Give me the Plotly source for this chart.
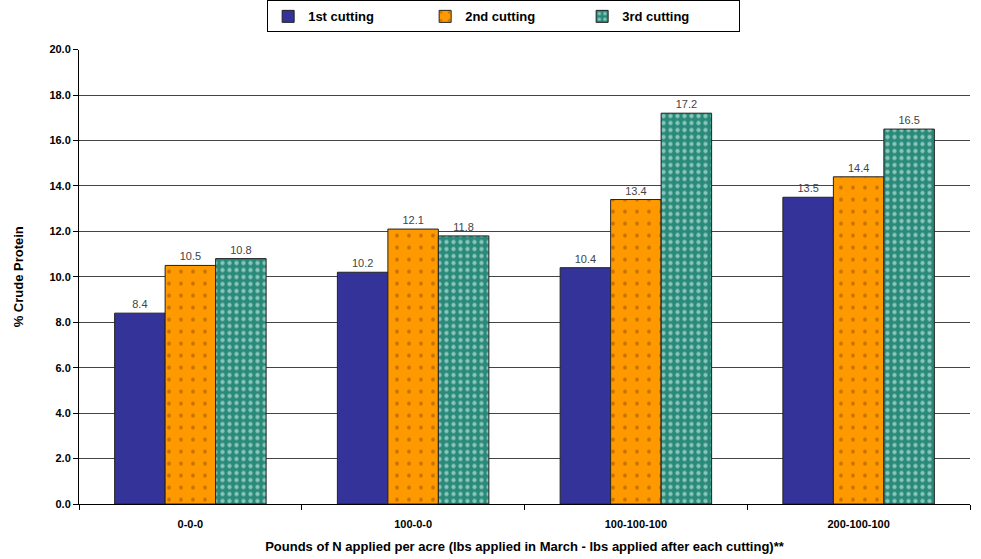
import plotly.graph_objects as go

categories = ["0-0-0", "100-0-0", "100-100-100", "200-100-100"]
first = [8.4, 10.2, 10.4, 13.5]
second = [10.5, 12.1, 13.4, 14.4]
third = [10.8, 11.8, 17.2, 16.5]
series_names = ["1st cutting", "2nd cutting", "3rd cutting"]
y_ticks = [0, 2, 4, 6, 8, 10, 12, 14, 16, 18, 20]

label_font = dict(size=11, color="#444444", family="Arial")

fig = go.Figure()
fig.add_trace(go.Bar(
    x=categories, y=first, name=series_names[0],
    marker=dict(color="#333399", line=dict(color="#222222", width=1)),
    text=[f"{v:.1f}" for v in first], textposition="outside",
    textfont=label_font, cliponaxis=False))
fig.add_trace(go.Bar(
    x=categories, y=second, name=series_names[1],
    marker=dict(color="#FF9900", line=dict(color="#222222", width=1),
                pattern=dict(shape=".", fgcolor="#8a4a00", size=12, solidity=0.08)),
    text=[f"{v:.1f}" for v in second], textposition="outside",
    textfont=label_font, cliponaxis=False))
fig.add_trace(go.Bar(
    x=categories, y=third, name=series_names[2],
    marker=dict(color="#2a8a7a", line=dict(color="#222222", width=1),
                pattern=dict(shape=".", fgcolor="#e8fff8", size=7, solidity=0.3)),
    text=[f"{v:.1f}" for v in third], textposition="outside",
    textfont=label_font, cliponaxis=False))

fig.update_layout(
    width=981, height=559,
    margin=dict(l=79, r=11, t=45, b=55),
    paper_bgcolor="white", plot_bgcolor="white",
    barmode="group", bargap=0.32, bargroupgap=0,
    font=dict(family="Arial", size=11, color="black"),
    legend=dict(orientation="h", x=0.4766, xanchor="center", y=0.942, yanchor="bottom",
                yref="container", bordercolor="black", borderwidth=1,
                font=dict(size=13, family="Arial", color="black", weight="bold"),
                itemwidth=30, entrywidth=112, tracegroupgap=0),
    xaxis=dict(showline=True, linecolor="black", linewidth=1, automargin=False,
               tickvals=categories, ticktext=[f"<b>{c}</b>" for c in categories],
               ticks="outside", ticklen=5, tickcolor="black", tickson="boundaries",
               ticklabelstandoff=10,
               tickfont=dict(size=11, family="Arial", color="black"),
               title=dict(text="<b>Pounds of N applied per acre (lbs applied in March - lbs applied after each cutting)**</b>",
                          font=dict(size=13, family="Arial"), standoff=12)),
    yaxis=dict(range=[0, 20], tickvals=y_ticks, ticktext=[f"<b>{v:.1f}</b>" for v in y_ticks],
               showline=True, linecolor="black", linewidth=1,
               ticks="outside", ticklen=5, tickcolor="black",
               showgrid=True, gridcolor="#444444", gridwidth=1,
               tickfont=dict(size=11, family="Arial", color="black"),
               title=dict(text="<b>% Crude Protein</b>", font=dict(size=13, family="Arial"), standoff=22)),
)
fig.write_html("out.html")
